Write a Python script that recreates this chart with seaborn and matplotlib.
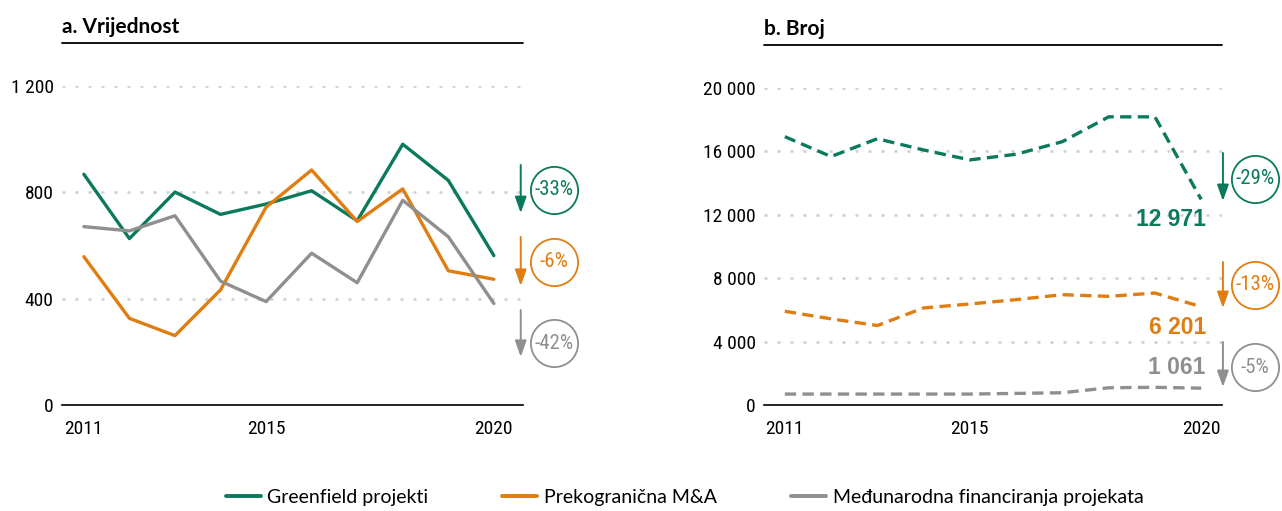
import numpy as np
import pandas as pd
import matplotlib.pyplot as plt
import matplotlib.ticker as mticker
from matplotlib import font_manager
import seaborn as sns

# data
years = list(range(2011, 2021))
series_names = ["Greenfield projekti", "Prekogranična M&A", "Međunarodna financiranja projekata"]

value_greenfield = [868, 626, 801, 717, 756, 806, 693, 981, 845, 562]
value_mna = [558, 326, 261, 433, 744, 884, 690, 813, 505, 473]
value_finance = [671, 655, 712, 466, 389, 571, 460, 770, 633, 382]

count_greenfield = [16930, 15675, 16800, 16090, 15465, 15820, 16615, 18180, 18180, 12971]
count_mna = [5915, 5434, 5015, 6123, 6374, 6646, 6960, 6855, 7064, 6201]
count_finance = [690, 690, 690, 690, 690, 731, 773, 1087, 1117, 1061]

pct_value = ["-33%", "-6%", "-42%"]
pct_count = ["-29%", "-13%", "-5%"]
last_count_labels = ["12 971", "6 201", "1 061"]

colors = ["#0b7a5c", "#e07d12", "#8f8f8f"]

sns.set_style("white")

# pick a narrow font if there is one
installed = {f.name for f in font_manager.fontManager.ttflist}
narrow = "Liberation Sans"
for cand in ["Liberation Sans Narrow", "Roboto Condensed", "Open Sans Condensed",
             "Noto Sans Condensed", "DejaVu Sans Condensed"]:
    if cand in installed:
        narrow = cand
        break

plt.rcParams['font.family'] = [narrow, 'DejaVu Sans']
plt.rcParams['text.color'] = 'black'
plt.rcParams['xtick.color'] = 'black'
plt.rcParams['ytick.color'] = 'black'

def to_long(a, b, c):
    rows = []
    for name, vals in zip(series_names, [a, b, c]):
        for y, v in zip(years, vals):
            rows.append({"year": y, "value": v, "series": name})
    return pd.DataFrame(rows)

df_a = to_long(value_greenfield, value_mna, value_finance)
df_b = to_long(count_greenfield, count_mna, count_finance)

fig = plt.figure(figsize=(12.82, 5.11), dpi=100)
ax_a = fig.add_axes([62/1282, 106/511, 461/1282, 319/511])
ax_b = fig.add_axes([764/1282, 106/511, 458/1282, 317/511])

palette = dict(zip(series_names, colors))
sns.lineplot(data=df_a, x="year", y="value", hue="series", palette=palette,
             lw=2.4, ax=ax_a, legend=False)
sns.lineplot(data=df_b, x="year", y="value", hue="series", palette=palette,
             lw=2.4, ax=ax_b, legend=False)
for line in ax_b.get_lines():
    line.set_dashes([3.4, 1.9])

space_fmt = mticker.FuncFormatter(lambda v, p: f"{int(v):,}".replace(",", " "))

def style_axis(ax, ymax, step, xlim, title):
    ax.set_ylim(0, ymax)
    ax.set_xlim(*xlim)
    ax.set_yticks(np.arange(0, ymax + 1, step))
    ax.set_xticks([2011, 2015, 2020])
    ax.yaxis.set_major_formatter(space_fmt)
    ax.set_xlabel("")
    ax.set_ylabel("")
    for s in ["top", "left", "right"]:
        ax.spines[s].set_visible(False)
    ax.spines["bottom"].set_color("black")
    ax.spines["bottom"].set_linewidth(1.2)
    ax.grid(axis="y", color="#cfcfcf", linestyle=(0, (1.2, 4)), lw=1.8)
    ax.grid(axis="x", visible=False)
    ax.tick_params(axis="y", length=0, pad=6, labelsize=14)
    ax.tick_params(axis="x", length=0, pad=11, labelsize=14)
    ax.text(0, 1.185, title, transform=ax.transAxes, fontsize=15,
            fontweight="bold", ha="left", va="center",
            family=["Lato", "DejaVu Sans"])
    ax.plot([0, 1], [1.135, 1.135], transform=ax.transAxes, color="black",
            lw=1.3, clip_on=False)

style_axis(ax_a, 1200, 400, (2010.52, 2020.64), "a. Vrijednost")
style_axis(ax_b, 20000, 4000, (2010.55, 2020.45), "b. Broj")

arrow_props = dict(arrowstyle="-|>,head_length=0.7,head_width=0.25", lw=1.4,
                   mutation_scale=14, shrinkA=0, shrinkB=0)

# change arrows and circled percentages
arrows_a = [(903, 722, 809), (632, 448, 538), (357, 181, 233)]
for (y0, y1, yc), col, txt in zip(arrows_a, colors, pct_value):
    ax_a.annotate("", xy=(2020.59, y1), xytext=(2020.59, y0),
                  arrowprops=dict(color=col, **arrow_props), annotation_clip=False)
    ax_a.plot([2021.32], [yc], marker="o", ms=34, mfc="white", mec=col,
              mew=1.3, clip_on=False)
    ax_a.text(2021.32, yc, txt, color=col, fontsize=15, ha="center",
              va="center", clip_on=False)

arrows_b = [(15899, 12871, 14259, 11735), (9022, 6120, 7571, 4921),
            (3975, 1136, 2397, 2397)]
for (y0, y1, yc, yl), col, txt, lab in zip(arrows_b, colors, pct_count, last_count_labels):
    ax_b.annotate("", xy=(2020.47, y1), xytext=(2020.47, y0),
                  arrowprops=dict(color=col, **arrow_props), annotation_clip=False)
    ax_b.plot([2021.17], [yc], marker="o", ms=34, mfc="white", mec=col,
              mew=1.3, clip_on=False)
    ax_b.text(2021.17, yc, txt, color=col, fontsize=15, ha="center",
              va="center", clip_on=False)
    ax_b.text(2020.1, yl, lab, color=col, fontsize=16.5, fontweight="bold",
              ha="right", va="center", family=["Liberation Sans", "DejaVu Sans"])

handles = [plt.Line2D([], [], color=c, lw=2.8) for c in colors]
fig.legend(handles, series_names, loc="center", bbox_to_anchor=(0.534, 0.027),
           ncol=3, frameon=False, handlelength=1.8, handletextpad=0.35,
           columnspacing=3.8, prop={"family": ["Lato", "DejaVu Sans"], "size": 14})

fig.savefig("out.png", dpi=100)
